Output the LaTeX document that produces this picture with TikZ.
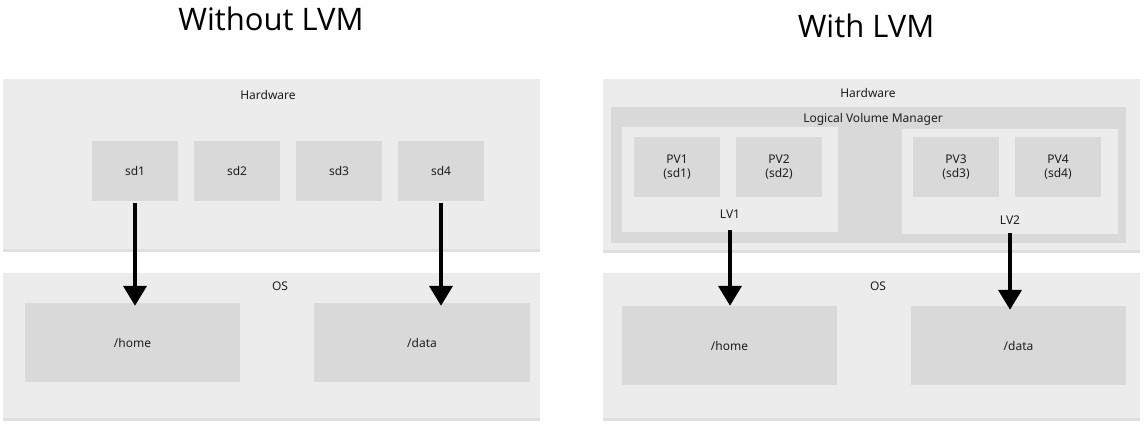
\documentclass[tikz,border=0pt]{standalone}
\usepackage{fontspec}
\setmainfont{Noto Sans}
\newfontfamily\titlefont{Open Sans}
\usetikzlibrary{arrows.meta,shadows}
\definecolor{panelgray}{HTML}{ECECEC}
\definecolor{boxgray}{HTML}{D9D9D9}
\definecolor{labelink}{HTML}{1E1E1E}
\begin{document}
\begin{tikzpicture}[x = 1pt, y = -1pt,
    panel/.style = {fill = panelgray, minimum width = 537pt, inner sep = 0pt, drop shadow = {shadow xshift = 0pt, shadow yshift = -3pt, opacity = 0.25}},
    lvmbox/.style = {fill = boxgray, inner sep = 0pt},
    lvbox/.style = {fill = panelgray, minimum width = 216pt, minimum height = 105pt, inner sep = 0pt},
    disk/.style = {fill = boxgray, minimum width = 86pt, minimum height = 60pt, inner sep = 0pt, align = center, font = \fontsize{12}{14}\selectfont, text = labelink},
    mount/.style = {fill = boxgray, minimum width = 215pt, minimum height = 79pt, inner sep = 0pt, font = \fontsize{12}{14}\selectfont, text = labelink},
    tag/.style = {inner sep = 0pt, font = \fontsize{12}{14}\selectfont, text = labelink},
    heading/.style = {inner sep = 0pt, font = \titlefont\fontsize{31}{36}\selectfont, text = black},
    flow/.style = {line width = 4pt, -{Triangle[width = 23pt, length = 20pt]}}]
    \useasboundingbox (0,0) rectangle (1144,426);

    % without LVM
    \node[heading] (titleL) at (271,19) {Without LVM};
    \node[panel, minimum height = 170pt] (hwL) at (271.5,164) {};
    \node[tag] (hwLtag) at (268,95) {Hardware};
    \node[disk] (sdL1) at (135,171) {sd1};
    \node[disk] (sdL2) at (237,171) {sd2};
    \node[disk] (sdL3) at (339,171) {sd3};
    \node[disk] (sdL4) at (441,171) {sd4};
    \node[panel, minimum height = 145pt] (osL) at (271.5,345.5) {};
    \node[tag] (osLtag) at (280,286) {OS};
    \node[mount] (homeL) at (132.5,342.5) {/home};
    \node[mount, minimum width = 216pt] (dataL) at (422,342.5) {/data};
    \draw[flow, shorten < = 2pt, shorten > = -3pt] (sdL1.south) -- (sdL1.south |- homeL.north);
    \draw[flow, shorten < = 2pt, shorten > = -3pt] (sdL4.south) -- (sdL4.south |- dataL.north);

    % with LVM
    \node[heading] (titleR) at (866,26) {With LVM};
    \node[panel, minimum height = 171pt] (hwR) at (871.5,164.5) {};
    \node[tag] (hwRtag) at (868,93) {Hardware};
    \node[lvmbox, minimum width = 515pt, minimum height = 136pt] (lvm) at (868.5,175) {};
    \node[tag] (lvmtag) at (873,119) {Logical Volume Manager};
    \node[lvbox] (lv1) at (730,179.5) {};
    \node[tag] (lv1tag) at (730,214) {LV1};
    \node[disk] (pv1) at (677,167) {PV1\\(sd1)};
    \node[disk] (pv2) at (779,167) {PV2\\(sd2)};
    \node[lvbox] (lv2) at (1010,181.5) {};
    \node[tag] (lv2tag) at (1010,220) {LV2};
    \node[disk] (pv3) at (956,167) {PV3\\(sd3)};
    \node[disk] (pv4) at (1058,167) {PV4\\(sd4)};
    \node[panel, minimum height = 145pt] (osR) at (871.5,345.5) {};
    \node[tag] (osRtag) at (878,286) {OS};
    \node[mount] (homeR) at (729.5,345.5) {/home};
    \node[mount] (dataR) at (1018.5,345.5) {/data};
    \draw[flow, shorten < = -2pt] (lv1.south) -- (lv1.south |- homeR.north);
    \draw[flow, shorten < = -1pt, shorten > = -4pt] (lv2.south) -- (lv2.south |- dataR.north);
\end{tikzpicture}
\end{document}
